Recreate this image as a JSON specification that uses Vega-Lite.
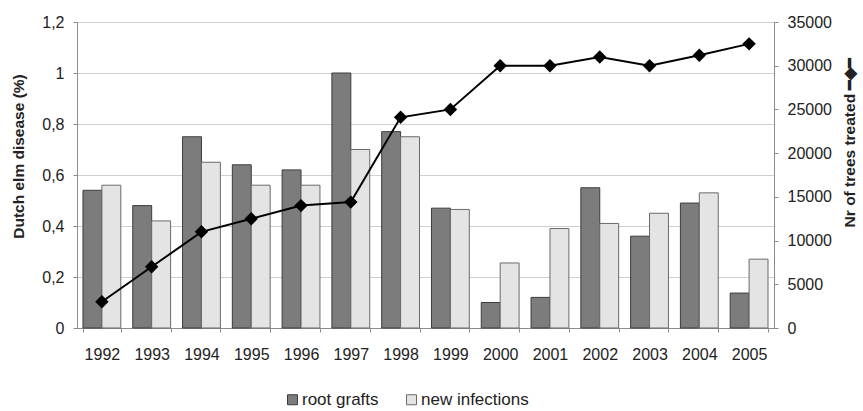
{
  "$schema": "https://vega.github.io/schema/vega-lite/v6.json",
  "width": 697,
  "height": 306,
  "autosize": {"type": "none"},
  "padding": {"left": 77, "top": 22, "right": 89, "bottom": 83},
  "background": "white",
  "config": {
    "font": "Liberation Sans",
    "view": {"stroke": "#8c8c8c", "strokeWidth": 1},
    "axis": {
      "labelFont": "Liberation Sans",
      "titleFont": "Liberation Sans",
      "labelFontSize": 16,
      "titleFontSize": 15.5,
      "labelColor": "#222222",
      "titleColor": "#222222",
      "domainColor": "#8c8c8c",
      "tickColor": "#8c8c8c",
      "tickSize": 4,
      "gridColor": "#cfcfcf"
    }
  },
  "datasets": {
    "bars": [
      {"year": 1992, "series": "root grafts", "value": 0.54},
      {"year": 1992, "series": "new infections", "value": 0.56},
      {"year": 1993, "series": "root grafts", "value": 0.48},
      {"year": 1993, "series": "new infections", "value": 0.42},
      {"year": 1994, "series": "root grafts", "value": 0.75},
      {"year": 1994, "series": "new infections", "value": 0.65},
      {"year": 1995, "series": "root grafts", "value": 0.64},
      {"year": 1995, "series": "new infections", "value": 0.56},
      {"year": 1996, "series": "root grafts", "value": 0.62},
      {"year": 1996, "series": "new infections", "value": 0.56},
      {"year": 1997, "series": "root grafts", "value": 1.0},
      {"year": 1997, "series": "new infections", "value": 0.7},
      {"year": 1998, "series": "root grafts", "value": 0.77},
      {"year": 1998, "series": "new infections", "value": 0.75},
      {"year": 1999, "series": "root grafts", "value": 0.47},
      {"year": 1999, "series": "new infections", "value": 0.465},
      {"year": 2000, "series": "root grafts", "value": 0.1},
      {"year": 2000, "series": "new infections", "value": 0.255},
      {"year": 2001, "series": "root grafts", "value": 0.12},
      {"year": 2001, "series": "new infections", "value": 0.39},
      {"year": 2002, "series": "root grafts", "value": 0.55},
      {"year": 2002, "series": "new infections", "value": 0.41},
      {"year": 2003, "series": "root grafts", "value": 0.36},
      {"year": 2003, "series": "new infections", "value": 0.45},
      {"year": 2004, "series": "root grafts", "value": 0.49},
      {"year": 2004, "series": "new infections", "value": 0.53},
      {"year": 2005, "series": "root grafts", "value": 0.137},
      {"year": 2005, "series": "new infections", "value": 0.27}
    ],
    "trees": [
      {"year": 1992, "treated": 3000},
      {"year": 1993, "treated": 7000},
      {"year": 1994, "treated": 11000},
      {"year": 1995, "treated": 12500},
      {"year": 1996, "treated": 14000},
      {"year": 1997, "treated": 14400},
      {"year": 1998, "treated": 24100},
      {"year": 1999, "treated": 25000},
      {"year": 2000, "treated": 30000},
      {"year": 2001, "treated": 30000},
      {"year": 2002, "treated": 31000},
      {"year": 2003, "treated": 30000},
      {"year": 2004, "treated": 31200},
      {"year": 2005, "treated": 32500}
    ]
  },
  "layer": [
    {
      "data": {"name": "bars"},
      "mark": {"type": "bar", "strokeWidth": 1},
      "encoding": {
        "x": {
          "field": "year",
          "type": "ordinal",
          "scale": {"paddingInner": 0.24, "paddingOuter": 0.12},
          "axis": {
            "title": null,
            "labelAngle": 0,
            "tickBand": "extent",
            "labelPadding": 14,
            "grid": false
          }
        },
        "xOffset": {
          "field": "series",
          "type": "nominal",
          "sort": ["root grafts", "new infections"],
          "scale": {"paddingInner": 0, "paddingOuter": 0}
        },
        "y": {
          "field": "value",
          "type": "quantitative",
          "scale": {"domain": [0, 1.2], "nice": false},
          "axis": {
            "title": "Dutch elm disease (%)",
            "values": [0, 0.2, 0.4, 0.6, 0.8, 1, 1.2],
            "labelExpr": "replace(format(datum.value, '~g'), '.', ',')",
            "labelPadding": 9,
            "grid": true,
            "titleX": -59,
            "titleY": 134,
            "titleAngle": -90,
            "titleBaseline": "middle",
            "titleAlign": "center"
          }
        },
        "color": {
          "field": "series",
          "type": "nominal",
          "sort": ["root grafts", "new infections"],
          "scale": {"domain": ["root grafts", "new infections"], "range": ["#7c7c7c", "#e4e4e4"]},
          "legend": {
            "title": null,
            "orient": "none",
            "direction": "horizontal",
            "legendX": 207,
            "legendY": 369,
            "symbolType": "square",
            "symbolSize": 100,
            "symbolStrokeColor": "#444444",
            "symbolStrokeWidth": 1,
            "labelFontSize": 17,
            "labelFont": "Liberation Sans",
            "labelColor": "#222222",
            "labelOffset": 1,
            "columnPadding": 24
          }
        },
        "stroke": {
          "field": "series",
          "type": "nominal",
          "scale": {"domain": ["root grafts", "new infections"], "range": ["#3c3c3c", "#6a6a6a"]},
          "legend": null
        }
      }
    },
    {
      "data": {"name": "trees"},
      "encoding": {
        "x": {"field": "year", "type": "ordinal"},
        "y": {
          "field": "treated",
          "type": "quantitative",
          "scale": {"domain": [0, 35000], "nice": false},
          "axis": {
            "orient": "right",
            "title": "Nr of trees treated  ━◆━",
            "values": [0, 5000, 10000, 15000, 20000, 25000, 30000, 35000],
            "format": "d",
            "grid": false,
            "labelPadding": 9,
            "titleAngle": -90,
            "titleX": 75,
            "titleY": 120,
            "titleBaseline": "middle",
            "titleAlign": "center"
          }
        }
      },
      "layer": [
        {"mark": {"type": "line", "color": "#000000", "strokeWidth": 2}},
        {"mark": {"type": "point", "shape": "diamond", "filled": true, "color": "#000000", "size": 180, "opacity": 1}}
      ]
    }
  ],
  "resolve": {"scale": {"y": "independent"}}
}
